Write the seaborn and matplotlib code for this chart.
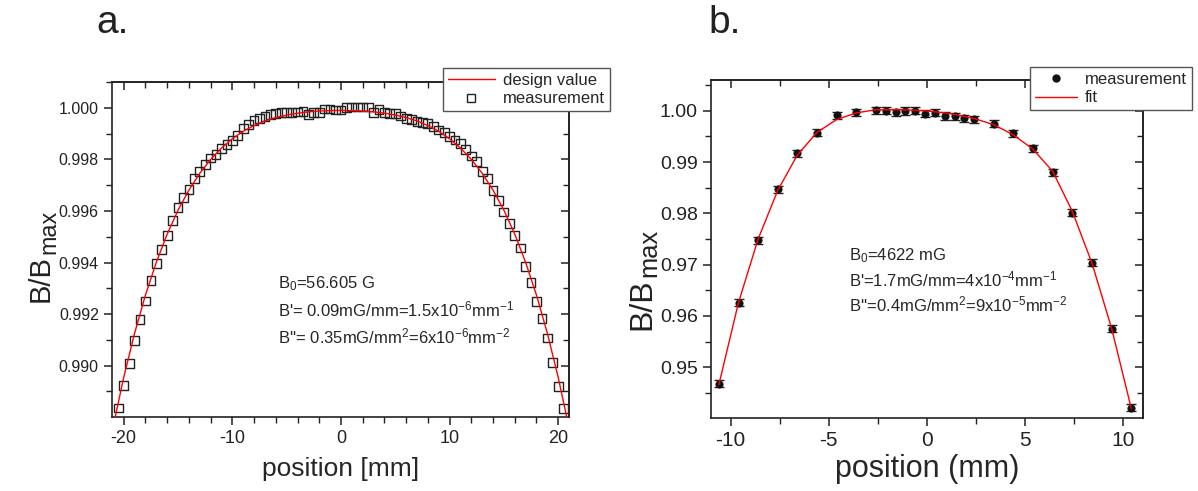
import numpy as np
import pandas as pd
import matplotlib
matplotlib.use("Agg")
import matplotlib.pyplot as plt
from matplotlib.ticker import MultipleLocator, FormatStrFormatter
from matplotlib.lines import Line2D
import seaborn as sns

# ---------------- data: panel a ----------------
pos_a = [-20.5, -20.0, -19.5, -19.0, -18.5, -18.0, -17.5, -17.0, -16.5, -16.0,
         -15.5, -15.0, -14.5, -14.0, -13.5, -13.0, -12.5, -12.0, -11.5, -11.0,
         -10.5, -10.0, -9.5, -9.0, -8.5, -8.0, -7.5, -7.0, -6.5, -6.0,
         -5.5, -5.0, -4.5, -4.0, -3.5, -3.0, -2.5, -2.0, -1.5, -1.0,
         -0.5, 0.0, 0.5, 1.0, 1.5, 2.0, 2.5, 3.0, 3.5, 4.0,
         4.5, 5.0, 5.5, 6.0, 6.5, 7.0, 7.5, 8.0, 8.5, 9.0,
         9.5, 10.0, 10.5, 11.0, 11.5, 12.0, 12.5, 13.0, 13.5, 14.0,
         14.5, 15.0, 15.5, 16.0, 16.5, 17.0, 17.5, 18.0, 18.5, 19.0,
         19.5, 20.0, 20.5]
meas_a = [0.98836, 0.98922, 0.99008, 0.99098, 0.99180, 0.99251, 0.99329, 0.99395, 0.99451, 0.99505,
          0.99564, 0.99612, 0.99653, 0.99684, 0.99725, 0.99753, 0.99781, 0.99805, 0.99818, 0.99841,
          0.99858, 0.99873, 0.99894, 0.99920, 0.99934, 0.99950, 0.99957, 0.99965, 0.99974, 0.99978,
          0.99981, 0.99981, 0.99982, 0.99984, 0.99987, 0.99974, 0.99982, 0.99983, 0.99995, 0.99995,
          0.99991, 0.99991, 1.00000, 1.00003, 1.00003, 1.00003, 1.00003, 0.99982, 0.99993, 0.99981,
          0.99978, 0.99978, 0.99968, 0.99959, 0.99955, 0.99948, 0.99942, 0.99940, 0.99926, 0.99914,
          0.99905, 0.99888, 0.99875, 0.99863, 0.99839, 0.99813, 0.99792, 0.99753, 0.99725, 0.99680,
          0.99641, 0.99596, 0.99550, 0.99505, 0.99456, 0.99386, 0.99322, 0.99250, 0.99182, 0.99107,
          0.99012, 0.98920, 0.98833]

design_pos = [-21, -20, -19, -18, -17, -16, -15, -14, -13, -12, -11, -10, -9, -8, -7, -6, -5, -4, -3,
              -2, -1, 0, 1, 2, 3, 4, 5, 6, 7, 8, 9, 10, 11, 12, 13, 14, 15, 16, 17, 18, 19, 20, 21]
design_val = [0.98759, 0.98955, 0.99126, 0.99274, 0.99401, 0.99510, 0.99603, 0.99681, 0.99746, 0.99800,
              0.99844, 0.99880, 0.99909, 0.99931, 0.99949, 0.99962, 0.99972, 0.99979, 0.99984,
              0.999875, 0.99989, 0.99990, 0.99989, 0.999875, 0.99984, 0.99979, 0.99972, 0.99962, 0.99949,
              0.99931, 0.99909, 0.99880, 0.99844, 0.99800, 0.99746, 0.99681, 0.99603, 0.99510, 0.99401,
              0.99274, 0.99126, 0.98955, 0.98759]

# ---------------- data: panel b ----------------
pos_b = [-10.6, -9.6, -8.6, -7.6, -6.6, -5.6, -4.6, -3.6, -2.6, -2.1, -1.6, -1.1, -0.6, -0.1,
         0.4, 0.9, 1.4, 1.9, 2.4, 3.4, 4.4, 5.4, 6.4, 7.4, 8.4, 9.4, 10.4]
meas_b = [0.9468, 0.9626, 0.97475, 0.9847, 0.99168, 0.9957, 0.99916, 0.9997, 1.0001, 1.0000,
          0.9997, 0.99995, 1.0000, 0.99945, 0.9996, 0.9990, 0.9989, 0.99857, 0.99838, 0.99746,
          0.99558, 0.99271, 0.9880, 0.98016, 0.97039, 0.9575, 0.94207]
err_b = [0.0007] * len(pos_b)
fit_b = [0.9466, 0.9626, 0.9750, 0.9845, 0.9914, 0.9958, 0.9983, 0.9996, 1.0002, 1.0002,
         1.0002, 1.0002, 1.0001, 1.0000, 0.9998, 0.9996, 0.9993, 0.9989, 0.9985, 0.9973,
         0.9953, 0.9925, 0.9882, 0.9804, 0.9703, 0.9576, 0.9420]

labels_a = ["design value", "measurement"]
labels_b = ["measurement", "fit"]
annot_a = ["B$_0$=56.605 G",
           "B'= 0.09mG/mm=1.5x10$^{-6}$mm$^{-1}$",
           "B''= 0.35mG/mm$^2$=6x10$^{-6}$mm$^{-2}$"]
annot_b = ["B$_0$=4622 mG",
           "B'=1.7mG/mm=4x10$^{-4}$mm$^{-1}$",
           "B''=0.4mG/mm$^2$=9x10$^{-5}$mm$^{-2}$"]

# ---------------- style ----------------
sns.set_style("ticks")
plt.rcParams["font.family"] = ["Liberation Sans", "DejaVu Sans"]
plt.rcParams["mathtext.default"] = "regular"
plt.rcParams["axes.unicode_minus"] = False
plt.rcParams["axes.linewidth"] = 1.2

W, H = 1198, 491
fig = plt.figure(figsize=(W / 100, H / 100), dpi=100)
ax1 = fig.add_axes([0.0935, 0.1507, 0.475 - 0.0935, 0.833 - 0.1507])
ax2 = fig.add_axes([0.5935, 0.1487, 0.9541 - 0.5935, 0.837 - 0.1487])

RED = "#ff0000"
INK = "#222222"

# ---- panel a ----
df_design = pd.DataFrame({"pos": design_pos, "val": design_val})
df_meas_a = pd.DataFrame({"pos": pos_a, "val": meas_a})
sns.lineplot(data=df_design, x="pos", y="val", ax=ax1, color=RED, lw=1.0,
             estimator=None, zorder=3, legend=False)
sns.scatterplot(data=df_meas_a, x="pos", y="val", ax=ax1, marker="s", s=40,
                facecolor="none", edgecolor=INK, linewidth=1.0, zorder=2, legend=False)
ax1.set_xlim(-21.08, 21.0)
ax1.set_ylim(0.98801, 1.00100)
ax1.xaxis.set_major_locator(MultipleLocator(10))
ax1.xaxis.set_minor_locator(MultipleLocator(2))
ax1.yaxis.set_major_locator(MultipleLocator(0.002))
ax1.yaxis.set_minor_locator(MultipleLocator(0.001))
ax1.yaxis.set_major_formatter(FormatStrFormatter("%.3f"))
ax1.set_xlabel("position [mm]", fontsize=19)
ax1.set_ylabel("")
ax1.tick_params(axis="x", labelsize=13)
ax1.tick_params(axis="y", labelsize=11.5)
for i, t in enumerate(annot_a):
    ax1.text(-5.78, [0.993012, 0.991926, 0.990880][i], t, fontsize=12, va="baseline")

# ---- panel b ----
df_meas_b = pd.DataFrame({"pos": pos_b, "val": meas_b, "err": err_b})
df_fit_b = pd.DataFrame({"pos": pos_b, "val": fit_b})
ax2.errorbar(df_meas_b["pos"], df_meas_b["val"], yerr=df_meas_b["err"], fmt="none",
             ecolor=INK, elinewidth=1.0, capsize=3.5, capthick=1.0, zorder=2)
sns.scatterplot(data=df_meas_b, x="pos", y="val", ax=ax2, marker="o", s=28,
                color="#111111", edgecolor="#111111", linewidth=0.5, zorder=3, legend=False)
sns.lineplot(data=df_fit_b, x="pos", y="val", ax=ax2, color=RED, lw=1.0,
             estimator=None, zorder=4, legend=False)
ax2.set_xlim(-11.0, 11.0)
ax2.set_ylim(0.9401, 1.0060)
ax2.xaxis.set_major_locator(MultipleLocator(5))
ax2.xaxis.set_minor_locator(MultipleLocator(2.5))
ax2.yaxis.set_major_locator(MultipleLocator(0.01))
ax2.yaxis.set_minor_locator(MultipleLocator(0.005))
ax2.yaxis.set_major_formatter(FormatStrFormatter("%.2f"))
ax2.set_xlabel("position (mm)", fontsize=22)
ax2.set_ylabel("")
ax2.tick_params(axis="x", labelsize=15)
ax2.tick_params(axis="y", labelsize=14)
for i, t in enumerate(annot_b):
    ax2.text(-3.99, [0.97084, 0.96576, 0.96088][i], t, fontsize=12, va="baseline")

for ax in (ax1, ax2):
    for s in ax.spines.values():
        s.set_visible(True)
        s.set_color(INK)
        s.set_linewidth(1.2)
    ax.tick_params(which="both", direction="out", top=False, right=False, colors=INK)
    ax.tick_params(which="major", length=6, width=1.1)
    ax.tick_params(which="minor", length=4, width=1.0)
    # inward ticks on top and right
    sx = ax.secondary_xaxis("top")
    sx.xaxis.set_major_locator(MultipleLocator(ax.xaxis.get_major_locator()._edge.step))
    sx.xaxis.set_minor_locator(MultipleLocator(ax.xaxis.get_minor_locator()._edge.step))
    sx.tick_params(which="both", direction="in", labeltop=False, colors=INK)
    sx.tick_params(which="major", length=6, width=1.1)
    sx.tick_params(which="minor", length=4, width=1.0)
    sx.spines["top"].set_color(INK)
    sx.spines["top"].set_linewidth(1.2)
    sy = ax.secondary_yaxis("right")
    sy.yaxis.set_major_locator(MultipleLocator(ax.yaxis.get_major_locator()._edge.step))
    sy.yaxis.set_minor_locator(MultipleLocator(ax.yaxis.get_minor_locator()._edge.step))
    sy.tick_params(which="both", direction="in", labelright=False, colors=INK)
    sy.tick_params(which="major", length=6, width=1.1)
    sy.tick_params(which="minor", length=4, width=1.0)
    sy.spines["right"].set_color(INK)
    sy.spines["right"].set_linewidth(1.2)

ax1.xaxis.set_label_coords(0.5, -0.118)
ax1.xaxis.label.set_va("top")
ax2.xaxis.set_label_coords(0.5, -0.108)
ax2.xaxis.label.set_va("top")

# y labels: "B/B" with a large "max" subscript, rotated
renderer = fig.canvas.get_renderer()


def ylabel_pieces(x_base, y_bottom, size, sub_scale, sub_shift):
    t1 = fig.text(x_base / W, 1 - y_bottom / H, "B/B", rotation=90, rotation_mode="anchor",
                  ha="left", va="baseline", fontsize=size, color=INK)
    bb = t1.get_window_extent(renderer)
    fig.text((x_base + sub_shift) / W, 1 - (y_bottom - bb.height - 1) / H, "max",
             rotation=90, rotation_mode="anchor", ha="left", va="baseline",
             fontsize=size * sub_scale, color=INK)


ylabel_pieces(49, 302, 21, 0.8, 6)
ylabel_pieces(650, 330, 23, 0.8, 6)

# legends
h_a = [Line2D([], [], color=RED, lw=1.0),
       Line2D([], [], marker="s", ls="none", markerfacecolor="none",
              markeredgecolor=INK, markersize=6)]
fig.legend(h_a, labels_a, loc="upper left", bbox_to_anchor=(0.3698, 0.8615),
           bbox_transform=fig.transFigure, fontsize=12, frameon=True, fancybox=False,
           edgecolor="#555555", framealpha=1, borderaxespad=0, handlelength=2.8,
           borderpad=0.3, labelspacing=0.2, handletextpad=0.5)
h_b = [Line2D([], [], marker="o", ls="none", color="#111111", markersize=5),
       Line2D([], [], color=RED, lw=1.0)]
fig.legend(h_b, labels_b, loc="upper left", bbox_to_anchor=(0.8598, 0.8635),
           bbox_transform=fig.transFigure, fontsize=12, frameon=True, fancybox=False,
           edgecolor="#555555", framealpha=1, borderaxespad=0, handlelength=2.5,
           borderpad=0.3, labelspacing=0.2, handletextpad=0.5)

fig.text(0.0801, 0.9328, "a.", fontsize=28, va="baseline", color=INK)
fig.text(0.591, 0.9328, "b.", fontsize=28, va="baseline", color=INK)

fig.savefig("out.png", dpi=100)
